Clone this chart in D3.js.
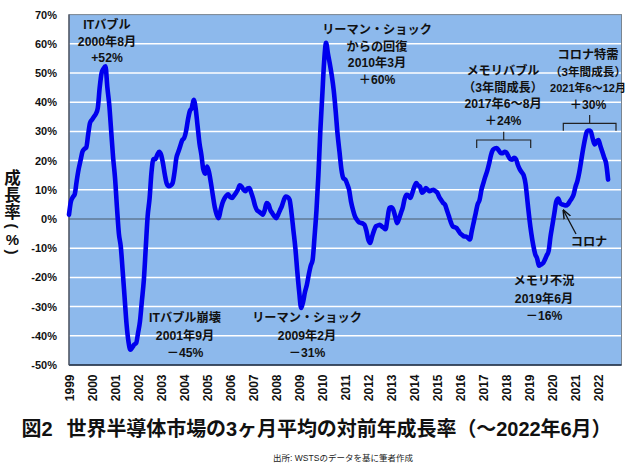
<!DOCTYPE html>
<html><head><meta charset="utf-8">
<script src="https://cdn.jsdelivr.net/npm/d3@7"></script>
<style>
html,body{margin:0;padding:0;background:#fff;}
svg{display:block;}
text{font-family:"Liberation Sans","Noto Sans CJK JP",Arial,sans-serif;}
</style></head>
<body>
<svg id="c" width="630" height="465"></svg>
<script>
// ---- data ----
const startYear = 1999;
const yearLabels = ["1999","2000","2001","2002","2003","2004","2005","2006","2007","2008","2009","2010","2011","2012","2013","2014","2015","2016","2017","2018","2019","2020","2021","2022"];
const yTicks = [-50,-40,-30,-20,-10,0,10,20,30,40,50,60,70];
// 3-month-average YoY growth (%), monthly from Jan 1999 to Jun 2022
const growth1999_2004 = [
  1.5, 6, 7.5, 8.5, 13, 17, 20, 23, 24, 24.5, 29, 33,
  34, 35, 36, 38, 45, 50, 51.5, 52.3, 45, 39, 30, 21,
  14, 4, -5, -9.5, -18, -27, -36, -42, -44.8, -44, -43, -42.5,
  -39, -35, -28, -21, -10, 1, 7, 16, 20.5, 20.5, 22, 23,
  22, 19, 15, 12, 11.2, 11.5, 12.3, 16, 21, 23, 25, 27,
  27.7, 30, 34, 37, 38, 40.8, 38, 32, 26, 22, 17, 15.5
];
const growth2005_2010 = [
  18, 16, 12.3, 8, 4, 1.5, 0.3, 3, 5.5, 7, 8, 8.5,
  7.5, 7.2, 8, 8.9, 10, 11.5, 11, 10, 9.5, 10.5, 10.6, 9,
  7, 4.5, 3, 2.5, 2, 1.5, 3, 5.5, 5, 3, 2, 1,
  0.3, 1.5, 3, 4.5, 6.5, 7.7, 7.5, 6.6, 2, -4, -10, -18,
  -25, -30.5, -28.5, -25, -22.5, -19, -16, -14, -6, 3, 15, 30,
  42, 54, 60.3, 56.5, 53, 49, 44, 37, 29, 23, 17, 14
];
const growth2011_2016 = [
  13.5, 12, 10, 6, 3.2, 1, -0.2, -1, -1.3, -1.5, -2, -4,
  -7, -8.2, -6, -4, -2.5, -2.2, -2, -2.5, -3, -3.5, 0, 3.8,
  4, 3.2, 1, -1.4, 0, 2, 4, 7, 8.3, 8, 7.2, 9,
  11, 12.3, 11.5, 11, 9, 9.5, 10.6, 10, 9.5, 9.8, 10, 9.5,
  9, 7.5, 6.5, 5.5, 4.9, 3, 1, -1, -2.5, -2.8, -3.1, -4,
  -5, -5.5, -6, -6, -6.5, -7, -4, -1, 2, 5, 6.5, 10
];
const growth2017_2022 = [
  12.3, 14.5, 16.5, 19, 22, 23.7, 24.2, 24.3, 23.5, 22.6, 22.5, 23,
  22.8, 21.5, 20.5, 20.3, 21, 20.5, 18.5, 17, 16, 15, 12, 6,
  0, -5, -9, -12, -13.5, -16, -15.6, -15.2, -14, -12.5, -11, -6,
  -2, 2, 6, 7, 5.5, 5, 4.8, 4.6, 5, 6, 7, 8.3,
  11, 13, 16, 20, 24, 27.5, 30, 30.3, 30, 27.5, 25.5, 26.5,
  27, 25, 23, 21, 19, 13.5
];
const annotations = [
  {lines:["ITバブル","2000年8月","+52%"], x:107, y:25, dy:16.5},
  {lines:["ITバブル崩壊","2001年9月","－45%"], x:185, y:318, dy:17.5},
  {lines:["リーマン・ショック","からの回復","2010年3月","＋60%"], x:377, y:30, dy:16.5},
  {lines:["リーマン・ショック","2009年2月","－31%"], x:307, y:318, dy:17.5},
  {lines:["メモリバブル","（3年間成長）","2017年6～8月","＋24%"], x:503, y:71, dy:16.7},
  {lines:["コロナ特需","（3年間成長）","2021年6～12月","＋30%"], x:588, y:55, dy:16.7, small:{1:11.6, 2:11}},
  {lines:["メモリ不況","2019年6月","－16%"], x:544, y:281, dy:17.5},
  {lines:["コロナ"], x:589, y:242, dy:0}
];
const yTitle = ["成","長","率","(","%",")"];
const titleHead = "図2";
const titleBody = "世界半導体市場の3ヶ月平均の対前年成長率（～2022年6月）";
const source = "出所: WSTSのデータを基に筆者作成";

// ---- build ----
const growth = [].concat(growth1999_2004, growth2005_2010, growth2011_2016, growth2017_2022);
const series = growth.map((v,i)=>({m:i, v:v}));

const svg = d3.select("#c");
const L=69, R=621.5, T=14.6, B=365;
const x = d3.scaleLinear().domain([0, 24*12]).range([L, R]);
const y = d3.scaleLinear().domain([-50, 70]).range([B, T]);

svg.append("rect").attr("x",L).attr("y",T).attr("width",R-L).attr("height",B-T)
  .attr("fill","#8db9ec");

// gridlines
svg.append("g").selectAll("line").data(yTicks.filter(d=>d!==0 && d!==-50 && d!==70)).join("line")
  .attr("x1",L).attr("x2",R).attr("y1",d=>y(d)).attr("y2",d=>y(d))
  .attr("stroke","#ffffff").attr("stroke-width",1.5);
svg.append("line").attr("x1",L).attr("x2",R).attr("y1",y(0)).attr("y2",y(0))
  .attr("stroke","#4a5a6a").attr("stroke-width",1.2);

// border
svg.append("rect").attr("x",L).attr("y",T).attr("width",R-L).attr("height",B-T)
  .attr("fill","none").attr("stroke","#7a8590").attr("stroke-width",1);
svg.append("line").attr("x1",L).attr("x2",R).attr("y1",B).attr("y2",B)
  .attr("stroke","#1d2c45").attr("stroke-width",1.6);
svg.append("line").attr("x1",L).attr("x2",L).attr("y1",T).attr("y2",B)
  .attr("stroke","#4a5060").attr("stroke-width",1.3);

// y axis
const ya = svg.append("g").attr("transform",`translate(${L},0)`)
  .call(d3.axisLeft(y).tickValues(yTicks).tickFormat(d=>d+"%").tickSize(0).tickPadding(12));
ya.select(".domain").remove();
ya.selectAll("text").attr("font-size",11).attr("font-weight","bold").attr("fill","#111")
  .attr("font-family","'Liberation Sans','Noto Sans CJK JP',sans-serif");

// x axis labels (rotated)
const xa = svg.append("g").attr("transform",`translate(0,${B})`)
  .call(d3.axisBottom(x).tickValues(yearLabels.map((d,i)=>i*12)).tickFormat((d,i)=>yearLabels[i]).tickSize(0));
xa.select(".domain").remove();
xa.selectAll("text").attr("font-size",12).attr("font-weight","bold").attr("fill","#111")
  .attr("text-anchor","end").attr("dy",null).attr("y",0)
  .attr("transform","translate(4.3,9.5) rotate(-90)")
  .attr("font-family","'Liberation Sans',sans-serif");

// line
const line = d3.line().x(d=>x(d.m)).y(d=>y(d.v)).curve(d3.curveMonotoneX);
svg.append("path").datum(series).attr("d",line)
  .attr("fill","none").attr("stroke","#0000ee").attr("stroke-width",4.6)
  .attr("stroke-linejoin","round").attr("stroke-linecap","round");

// brackets
function bracket(x1,x2,yy,yDown,yUp){
  const xm=(x1+x2)/2;
  svg.append("path").attr("d",`M${x1},${yDown}V${yy}H${x2}V${yDown}M${xm},${yy}V${yUp}`)
    .attr("fill","none").attr("stroke","#222").attr("stroke-width",1.2);
}
bracket(476.7,530.7,140,148,131.7);
bracket(563.3,616,123.3,130.7,115);

// corona arrow
svg.append("defs").append("marker").attr("id","ah").attr("viewBox","0 0 10 10")
  .attr("refX",9).attr("refY",5).attr("markerWidth",7).attr("markerHeight",7).attr("orient","auto")
  .append("path").attr("d","M0,1L10,5L0,9").attr("fill","none").attr("stroke","#111").attr("stroke-width",1.6);
svg.append("line").attr("x1",576).attr("y1",234).attr("x2",563.5).attr("y2",210.5)
  .attr("stroke","#111").attr("stroke-width",1.3).attr("marker-end","url(#ah)");

// annotations
annotations.forEach(a=>{
  a.lines.forEach((s,i)=>{
    const fs = (a.small && a.small[i]) ? a.small[i] : 12.2;
    svg.append("text").attr("font-size",fs).attr("font-weight","bold").attr("fill","#111")
      .attr("text-anchor","middle")
      .attr("x",a.x).attr("y",a.y+i*a.dy).attr("dominant-baseline","central").text(s);
  });
});

// y title (vertical, parens rotated)
const yPos = [178,195,212,226,239,252];
yTitle.forEach((ch,i)=>{
  const rot = (ch==="(" || ch===")");
  svg.append("text")
    .attr("transform",`translate(12.5,${yPos[i]})` + (rot ? " rotate(90)" : ""))
    .attr("text-anchor","middle").attr("dominant-baseline","central")
    .attr("font-size", rot ? 15 : (ch==="%" ? 15 : 16.5)).attr("font-weight","bold").attr("fill","#111")
    .text(ch);
});

// title & source
svg.append("text").attr("x",21.5).attr("y",429).attr("dominant-baseline","central")
  .attr("font-size",20).attr("font-weight","bold").attr("fill","#111").text(titleHead);
svg.append("text").attr("x",66.5).attr("y",429).attr("dominant-baseline","central")
  .attr("font-size",20).attr("font-weight","bold").attr("fill","#111")
  .attr("textLength",545).attr("lengthAdjust","spacing").text(titleBody);
svg.append("text").attr("x",343).attr("y",458).attr("text-anchor","middle").attr("dominant-baseline","central")
  .attr("font-size",8.5).attr("fill","#222").text(source);
</script>
</body></html>
